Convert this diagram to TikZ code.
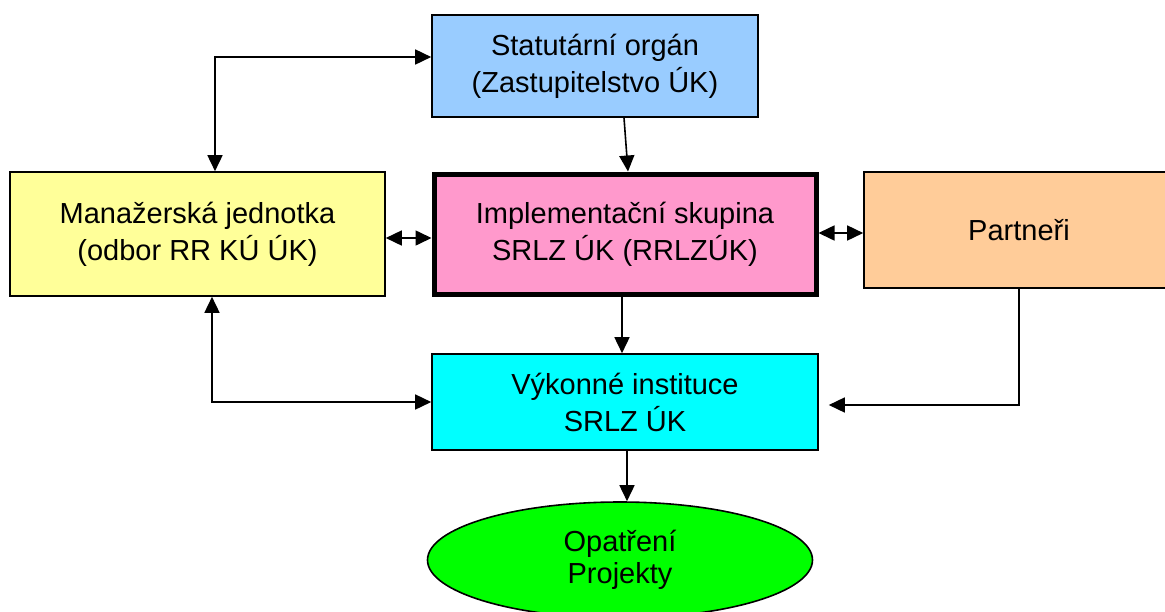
\documentclass[tikz,border=0pt]{standalone}
\usepackage{fontspec}
\setmainfont{Liberation Sans}
\usepackage{tikz}
\usetikzlibrary{
	arrows.meta,
	positioning,
	calc,
	shapes.geometric
}
\usepackage{xcolor}
\definecolor{statblue}{HTML}{99CCFF}
\definecolor{manyellow}{HTML}{FFFF99}
\definecolor{implpink}{HTML}{FF99CC}
\definecolor{partpeach}{HTML}{FFCC99}
\definecolor{vykcyan}{HTML}{00FFFF}
\definecolor{opgreen}{HTML}{00FF00}

\begin{document}
\begin{tikzpicture}[x=1pt,y=-1pt,
		>={Triangle[length=16pt,width=15pt]},
		box/.style={draw,line width=1.6pt,align=center,inner sep=0pt,
			font=\fontsize{29}{37}\selectfont},
		link/.style={line width=1.6pt}]
		
		\useasboundingbox (0,0) rectangle (1165,611);
		
		% Boxes
		\node[box,fill=statblue,minimum width=326pt,minimum height=102pt] (stat) at (595,66)
		{Statutární orgán\\(Zastupitelstvo ÚK)};
		\node[box,fill=manyellow,minimum width=375pt,minimum height=124pt] (manaz) at (197.5,234)
		{Manažerská jednotka\\(odbor RR KÚ ÚK)};
		\node[box,fill=implpink,line width=5pt,minimum width=382pt,minimum height=120pt] (impl) at (625,234)
		{Implementační skupina\\SRLZ ÚK (RRLZÚK)};
		\node[box,fill=partpeach,minimum width=310pt,minimum height=116pt] (partn) at (1019,230)
		{Partneři};
		\node[box,fill=vykcyan,minimum width=386pt,minimum height=96pt] (vyk) at (625,402)
		{Výkonné instituce\\SRLZ ÚK};
		\node[box,ellipse,fill=opgreen,minimum width=385pt,minimum height=116pt] (ell) at (620,560)
		{Opatření\\[-5pt]Projekty};
		
		% Connectors
		\draw[link,->] ([xshift=29pt]stat.south) -- ([xshift=3pt]impl.north);
		\draw[link,<->] ([yshift=9pt]stat.west) -| ([xshift=17.5pt]manaz.north);
		\draw[link,<->] ([yshift=-4pt]manaz.east) -- ([yshift=-4pt]impl.west);
		\draw[link,<->] ([yshift=1pt]impl.east) -- ([yshift=-3pt]partn.west);
		\draw[link,->] ([xshift=-3pt]impl.south) -- ([xshift=-3pt]vyk.north);
		\draw[link,<->] ([xshift=14.5pt]manaz.south) |- (vyk.west);
		\draw[link,->] (partn.south) |- ([xshift=10pt,yshift=-3pt]vyk.east);
		\draw[link,->] ([xshift=2pt]vyk.south) -- ([xshift=2pt]vyk.south |- ell.north);
		
\end{tikzpicture}
\end{document}
